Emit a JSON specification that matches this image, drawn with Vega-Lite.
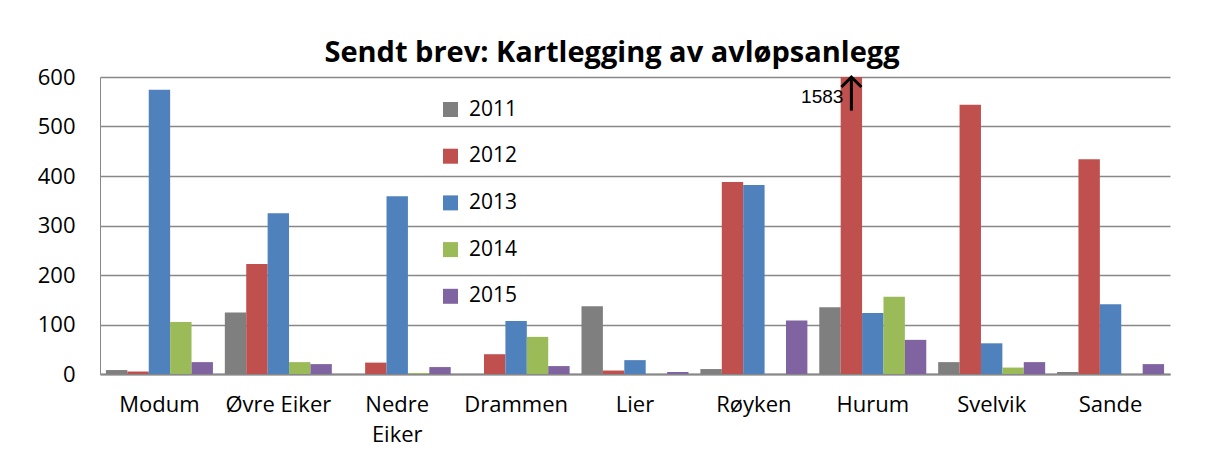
{
  "$schema": "https://vega.github.io/schema/vega-lite/v6.json",
  "width": 1070,
  "height": 297,
  "autosize": {"type": "none"},
  "padding": {"left": 100, "top": 77, "right": 42, "bottom": 85},
  "background": "white",
  "title": {"text": "Sendt brev: Kartlegging av avløpsanlegg", "font": "Open Sans", "fontSize": 29, "fontWeight": "bold", "color": "black", "anchor": "middle", "dx": -23, "dy": 9, "offset": 7},
  "data": {"values": [
    {"kommune": "Modum", "year": "2011", "value": 8},
    {"kommune": "Modum", "year": "2012", "value": 5},
    {"kommune": "Modum", "year": "2013", "value": 574},
    {"kommune": "Modum", "year": "2014", "value": 105},
    {"kommune": "Modum", "year": "2015", "value": 24},
    {"kommune": "Øvre Eiker", "year": "2011", "value": 124},
    {"kommune": "Øvre Eiker", "year": "2012", "value": 222},
    {"kommune": "Øvre Eiker", "year": "2013", "value": 325},
    {"kommune": "Øvre Eiker", "year": "2014", "value": 24},
    {"kommune": "Øvre Eiker", "year": "2015", "value": 20},
    {"kommune": "Nedre Eiker", "year": "2011", "value": 0},
    {"kommune": "Nedre Eiker", "year": "2012", "value": 23},
    {"kommune": "Nedre Eiker", "year": "2013", "value": 359},
    {"kommune": "Nedre Eiker", "year": "2014", "value": 2},
    {"kommune": "Nedre Eiker", "year": "2015", "value": 14},
    {"kommune": "Drammen", "year": "2011", "value": 0},
    {"kommune": "Drammen", "year": "2012", "value": 40},
    {"kommune": "Drammen", "year": "2013", "value": 107},
    {"kommune": "Drammen", "year": "2014", "value": 75},
    {"kommune": "Drammen", "year": "2015", "value": 16},
    {"kommune": "Lier", "year": "2011", "value": 137},
    {"kommune": "Lier", "year": "2012", "value": 7},
    {"kommune": "Lier", "year": "2013", "value": 28},
    {"kommune": "Lier", "year": "2014", "value": 0},
    {"kommune": "Lier", "year": "2015", "value": 4},
    {"kommune": "Røyken", "year": "2011", "value": 10},
    {"kommune": "Røyken", "year": "2012", "value": 388},
    {"kommune": "Røyken", "year": "2013", "value": 382},
    {"kommune": "Røyken", "year": "2014", "value": 0},
    {"kommune": "Røyken", "year": "2015", "value": 108},
    {"kommune": "Hurum", "year": "2011", "value": 135},
    {"kommune": "Hurum", "year": "2012", "value": 1583},
    {"kommune": "Hurum", "year": "2013", "value": 123},
    {"kommune": "Hurum", "year": "2014", "value": 156},
    {"kommune": "Hurum", "year": "2015", "value": 69},
    {"kommune": "Svelvik", "year": "2011", "value": 24},
    {"kommune": "Svelvik", "year": "2012", "value": 544},
    {"kommune": "Svelvik", "year": "2013", "value": 62},
    {"kommune": "Svelvik", "year": "2014", "value": 13},
    {"kommune": "Svelvik", "year": "2015", "value": 24},
    {"kommune": "Sande", "year": "2011", "value": 4},
    {"kommune": "Sande", "year": "2012", "value": 434},
    {"kommune": "Sande", "year": "2013", "value": 141},
    {"kommune": "Sande", "year": "2014", "value": 0},
    {"kommune": "Sande", "year": "2015", "value": 20}
  ]},
  "encoding": {
    "x": {
      "field": "kommune", "type": "nominal", "sort": null,
      "scale": {"paddingInner": 0.1, "paddingOuter": 0.05},
      "axis": {
        "title": null, "labelAngle": 0, "ticks": false, "grid": false,
        "domainColor": "#888888", "domainWidth": 2,
        "labelFont": "Open Sans", "labelFontSize": 22, "labelColor": "black",
        "labelPadding": 20, "labelBaseline": "top", "labelLineHeight": 30,
        "labelExpr": "datum.label == 'Nedre Eiker' ? ['Nedre', 'Eiker'] : datum.label"
      }
    },
    "xOffset": {"field": "year", "type": "nominal", "scale": {"paddingInner": 0, "paddingOuter": 0}}
  },
  "layer": [
    {
      "mark": {"type": "bar", "clip": true},
      "encoding": {
        "y": {
          "field": "value", "type": "quantitative",
          "scale": {"domain": [0, 600], "nice": false},
          "axis": {
            "title": null, "values": [0, 100, 200, 300, 400, 500, 600],
            "ticks": false, "grid": true, "gridColor": "#888888", "gridWidth": 1.3,
            "domainColor": "#888888", "domainWidth": 1,
            "labelFont": "Open Sans", "labelFontSize": 22, "labelColor": "black",
            "labelPadding": 25
          }
        },
        "color": {
          "field": "year", "type": "nominal",
          "scale": {"domain": ["2011", "2012", "2013", "2014", "2015"], "range": ["#7F7F7F", "#C0504D", "#4F81BD", "#9BBB59", "#8064A2"]},
          "legend": {
            "title": null, "orient": "none", "legendX": 340, "legendY": 22,
            "symbolType": "square", "symbolSize": 225, "symbolStrokeWidth": 0,
            "labelFont": "Open Sans", "labelFontSize": 21, "labelColor": "black",
            "labelOffset": 8, "rowPadding": 24.7
          }
        }
      }
    },
    {
      "transform": [{"filter": "datum.value > 600"}],
      "mark": {"type": "rule", "color": "black", "strokeWidth": 3},
      "encoding": {"y": {"datum": 532}, "y2": {"datum": 600}}
    },
    {
      "transform": [{"filter": "datum.value > 600"}],
      "mark": {"type": "point", "shape": "M -1 1 L 0 0 L 1 1", "filled": false, "stroke": "black", "strokeWidth": 3, "size": 400, "opacity": 1},
      "encoding": {"y": {"datum": 600}}
    },
    {
      "transform": [{"filter": "datum.value > 600"}],
      "mark": {"type": "text", "align": "right", "baseline": "middle", "dx": -8, "dy": 20, "font": "Liberation Sans", "fontSize": 19, "color": "black"},
      "encoding": {"y": {"datum": 600}, "text": {"field": "value", "type": "quantitative", "format": "d"}}
    }
  ],
  "config": {"view": {"stroke": null}}
}
